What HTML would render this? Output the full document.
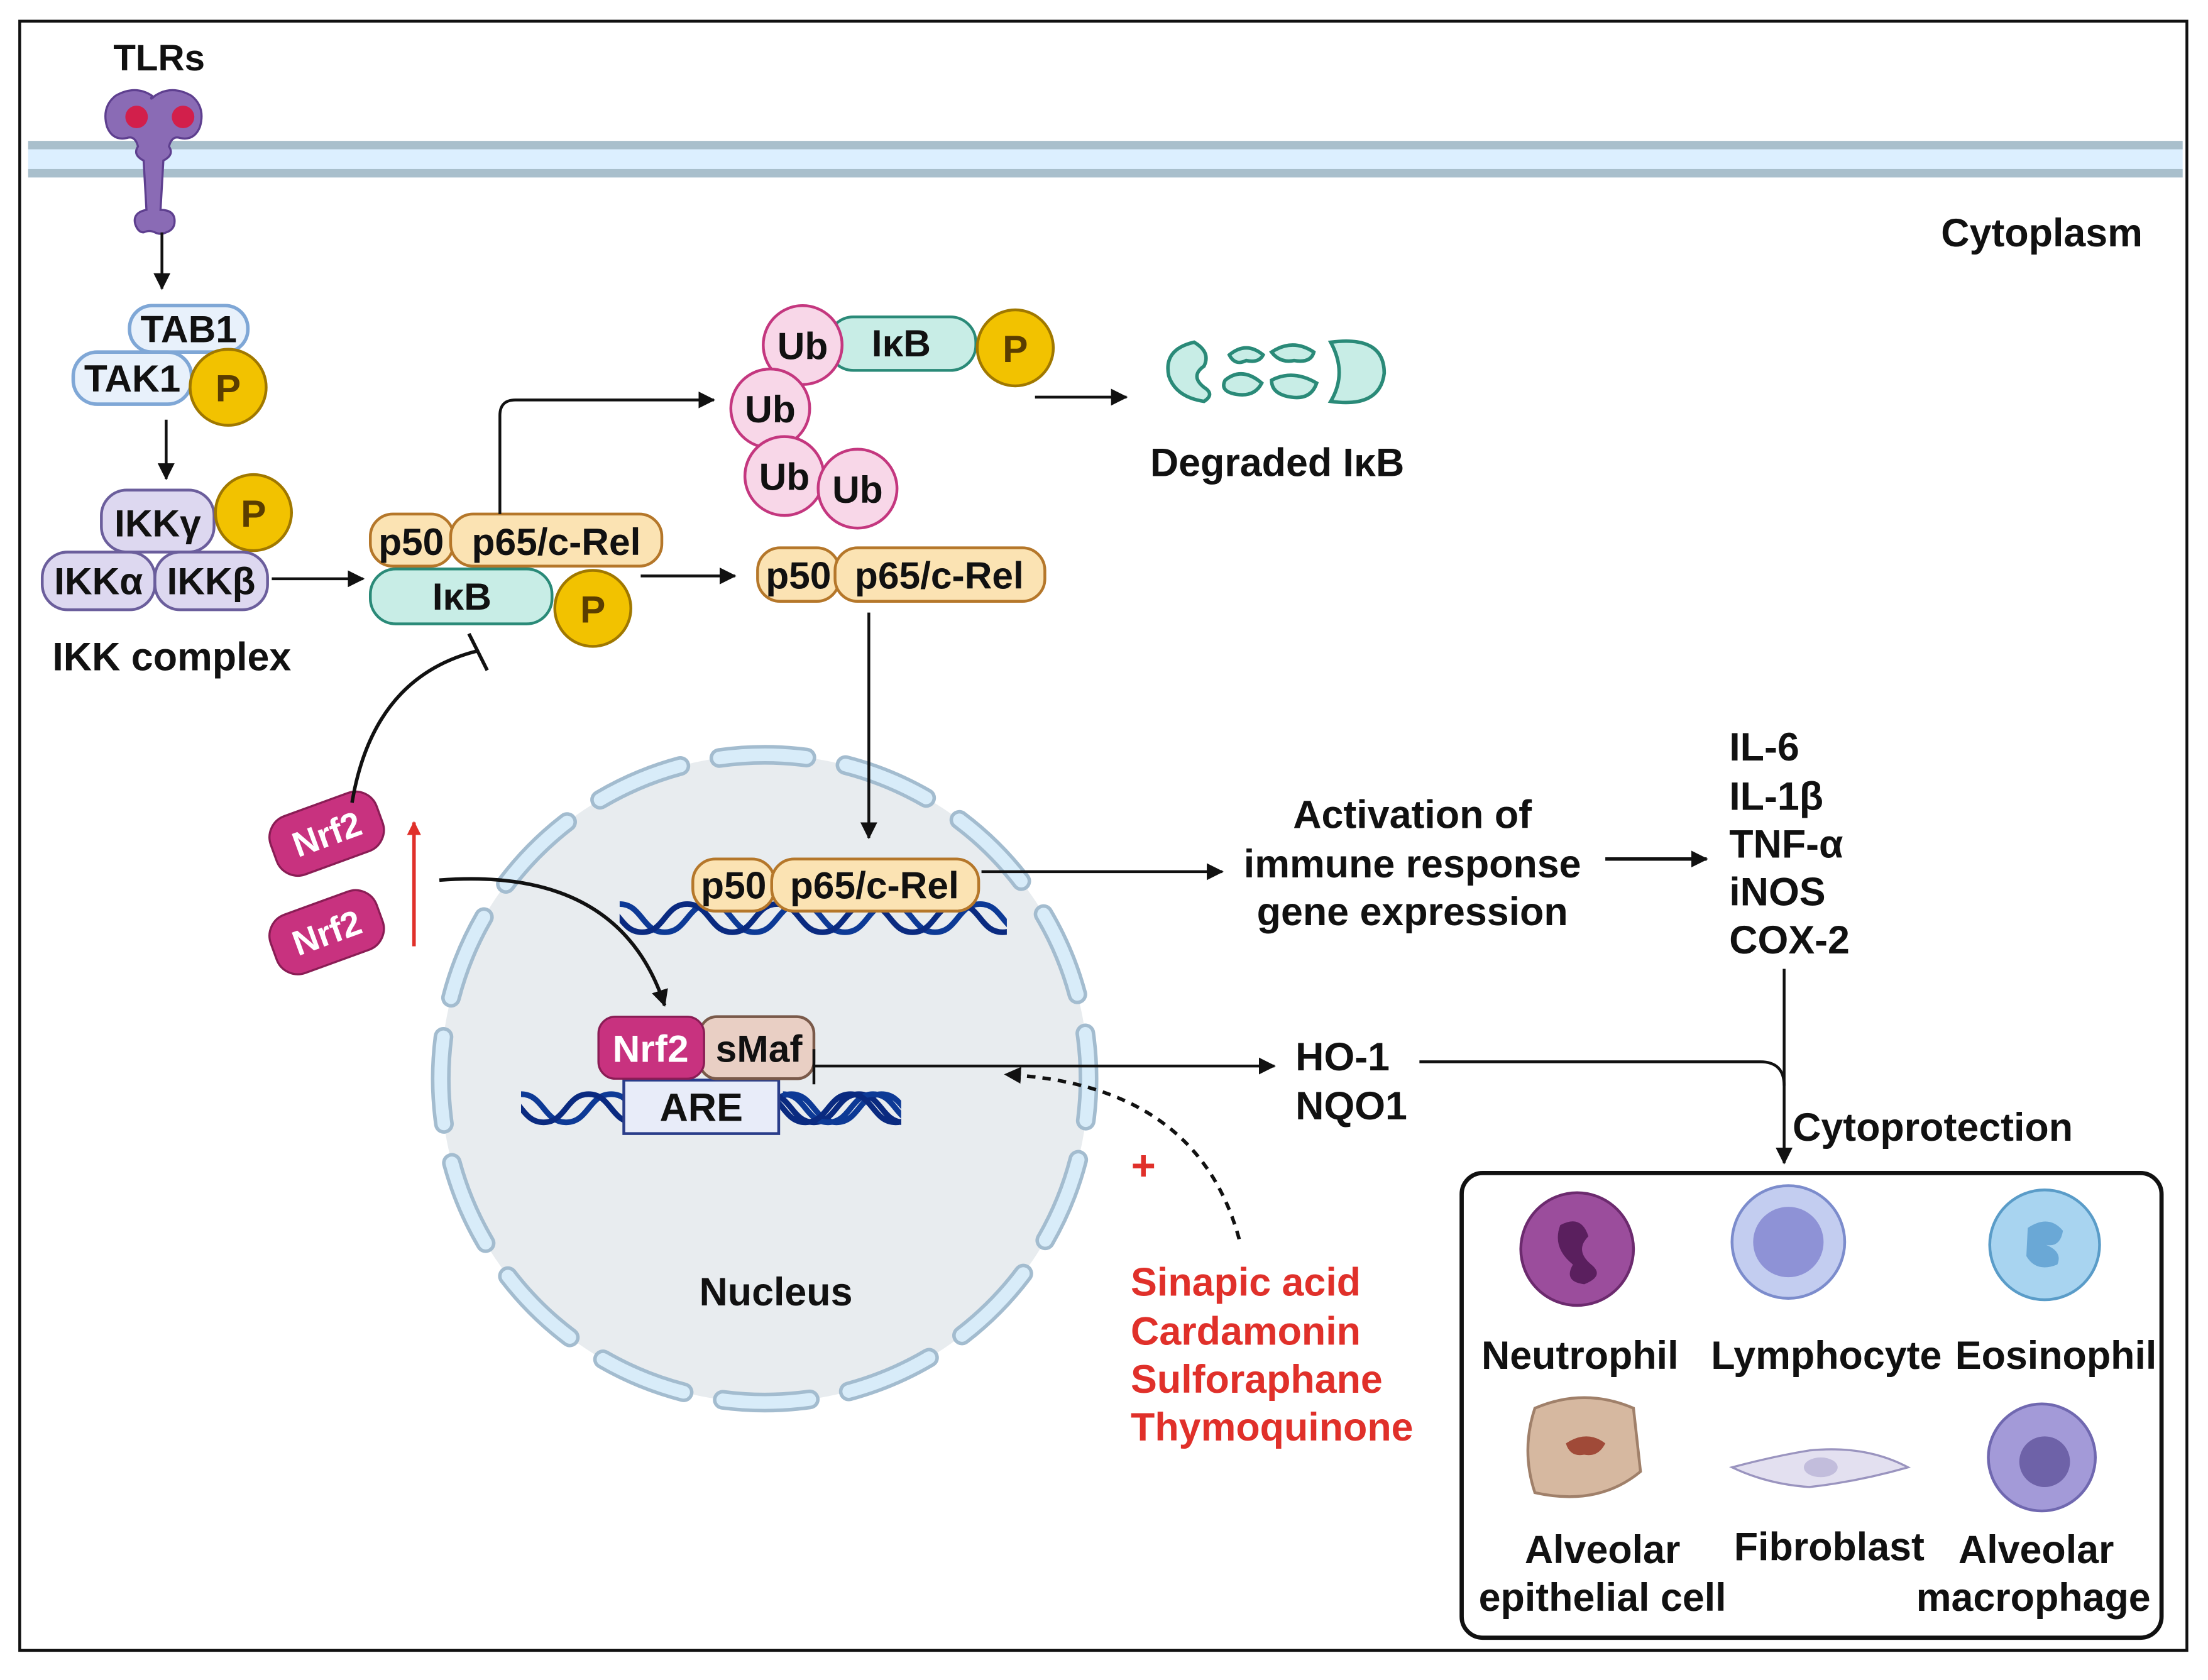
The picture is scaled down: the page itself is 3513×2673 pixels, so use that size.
<!DOCTYPE html>
<html><head><meta charset="utf-8"><style>
html,body{margin:0;padding:0;background:#fff}
svg{display:block}
text{font-family:"Liberation Sans",sans-serif;font-weight:bold;fill:#111}
</style></head><body>
<svg width="3513" height="2673" viewBox="0 0 1568 1193" xmlns="http://www.w3.org/2000/svg">
<defs>
<marker id="ah" markerWidth="12" markerHeight="12" refX="11" refY="6" orient="auto" markerUnits="userSpaceOnUse"><path d="M0,0 L12,6 L0,12 z" fill="#111"/></marker>
<marker id="ahr" markerWidth="10" markerHeight="10" refX="9" refY="5" orient="auto" markerUnits="userSpaceOnUse"><path d="M0,0 L10,5 L0,10 z" fill="#e0302a"/></marker>
<g id="dna"><path d="M0,-10 c16,0 16,20 32,20 c16,0 16,-20 32,-20 c16,0 16,20 32,20 c16,0 16,-20 32,-20 c16,0 16,20 32,20 c16,0 16,-20 32,-20 c16,0 16,20 32,20 c16,0 16,-20 32,-20 c16,0 16,20 32,20 c16,0 16,-20 32,-20" fill="none" stroke="#0d3a96" stroke-width="4"/><path d="M-16,-10 c16,0 16,20 32,20 c16,0 16,-20 32,-20 c16,0 16,20 32,20 c16,0 16,-20 32,-20 c16,0 16,20 32,20 c16,0 16,-20 32,-20 c16,0 16,20 32,20 c16,0 16,-20 32,-20 c16,0 16,20 32,20 c16,0 16,-20 32,-20" fill="none" stroke="#0a2a80" stroke-width="4"/></g>
<clipPath id="c1"><rect x="440" y="630" width="275" height="40"/></clipPath>
<clipPath id="c2"><rect x="370" y="765" width="80" height="45"/><rect x="550" y="765" width="90" height="45"/></clipPath>
</defs>
<rect x="14" y="15" width="1539" height="1157" fill="#fff" stroke="#111" stroke-width="2"/>
<rect x="20" y="101" width="1530" height="25" fill="#dcefff"/>
<rect x="20" y="100" width="1530" height="6" fill="#a9bfcc"/>
<rect x="20" y="120" width="1530" height="6" fill="#a9bfcc"/>
<text x="113" y="50" font-size="26" text-anchor="middle">TLRs</text>
<path d="M108,68 q-12,-8 -26,0 q-10,8 -6,22 q4,10 14,8 q6,-2 8,6 q-4,6 4,10 l2,35 q-10,2 -8,10 q2,6 6,6 q4,-2 8,0 q4,2 8,0 q6,-2 6,-8 q0,-8 -10,-8 l2,-35 q8,-4 4,-10 q2,-8 8,-6 q10,2 14,-8 q4,-14 -6,-22 q-14,-8 -26,0 q-4,4 -2,0z" fill="#8a6bb5" stroke="#5e3f8f" stroke-width="1.5"/>
<circle cx="97" cy="83" r="8" fill="#d21f4b"/><circle cx="130" cy="83" r="8" fill="#d21f4b"/>
<line x1="115" y1="165" x2="115" y2="205" stroke="#111" stroke-width="2" marker-end="url(#ah)"/>
<rect x="92" y="217" width="84" height="33" rx="16" fill="#e8f1fb" stroke="#7fa7d6" stroke-width="2.5"/>
<text x="134" y="243" font-size="27" text-anchor="middle">TAB1</text>
<rect x="52" y="250" width="84" height="37" rx="17" fill="#e8f1fb" stroke="#7fa7d6" stroke-width="2.5"/>
<text x="94" y="278" font-size="27" text-anchor="middle">TAK1</text>
<circle cx="162" cy="275" r="27" fill="#f2c200" stroke="#a07800" stroke-width="2"/><text x="162" y="285" font-size="27" text-anchor="middle" style="fill:#5a3d00">P</text>
<line x1="118" y1="298" x2="118" y2="340" stroke="#111" stroke-width="2" marker-end="url(#ah)"/>
<rect x="72" y="348" width="80" height="44" rx="18" fill="#ddd8f0" stroke="#6b5e9c" stroke-width="2"/>
<text x="112" y="381" font-size="27" text-anchor="middle">IKKγ</text>
<circle cx="180" cy="364" r="27" fill="#f2c200" stroke="#a07800" stroke-width="2"/><text x="180" y="374" font-size="27" text-anchor="middle" style="fill:#5a3d00">P</text>
<rect x="30" y="392" width="80" height="41" rx="18" fill="#ddd8f0" stroke="#6b5e9c" stroke-width="2"/>
<text x="70" y="422" font-size="27" text-anchor="middle">IKKα</text>
<rect x="110" y="392" width="80" height="41" rx="18" fill="#ddd8f0" stroke="#6b5e9c" stroke-width="2"/>
<text x="150" y="422" font-size="27" text-anchor="middle">IKKβ</text>
<text x="122" y="476" font-size="28" text-anchor="middle">IKK complex</text>
<line x1="193" y1="411" x2="258" y2="411" stroke="#111" stroke-width="2" marker-end="url(#ah)"/>
<rect x="263" y="365" width="59" height="37" rx="16" fill="#fbe3b3" stroke="#b5772a" stroke-width="2"/>
<text x="292" y="394" font-size="27" text-anchor="middle">p50</text>
<rect x="320" y="365" width="150" height="37" rx="16" fill="#fbe3b3" stroke="#b5772a" stroke-width="2"/>
<text x="395" y="394" font-size="27" text-anchor="middle">p65/c-Rel</text>
<rect x="263" y="404" width="129" height="39" rx="18" fill="#c8ede6" stroke="#2a8a78" stroke-width="2"/>
<text x="328" y="433" font-size="27" text-anchor="middle">IκB</text>
<circle cx="421" cy="432" r="27" fill="#f2c200" stroke="#a07800" stroke-width="2"/><text x="421" y="442" font-size="27" text-anchor="middle" style="fill:#5a3d00">P</text>
<line x1="455" y1="409" x2="522" y2="409" stroke="#111" stroke-width="2" marker-end="url(#ah)"/>
<path d="M355,365 V295 q0,-11 11,-11 H507" fill="none" stroke="#111" stroke-width="2" marker-end="url(#ah)"/>
<rect x="588" y="225" width="105" height="38" rx="18" fill="#c8ede6" stroke="#2a8a78" stroke-width="2"/>
<text x="640" y="253" font-size="27" text-anchor="middle">IκB</text>
<circle cx="721" cy="247" r="27" fill="#f2c200" stroke="#a07800" stroke-width="2"/><text x="721" y="257" font-size="27" text-anchor="middle" style="fill:#5a3d00">P</text>
<circle cx="570" cy="245" r="28" fill="#f8d7e8" stroke="#c4377f" stroke-width="2"/><text x="570" y="255" font-size="27" text-anchor="middle">Ub</text>
<circle cx="547" cy="290" r="28" fill="#f8d7e8" stroke="#c4377f" stroke-width="2"/><text x="547" y="300" font-size="27" text-anchor="middle">Ub</text>
<circle cx="557" cy="338" r="28" fill="#f8d7e8" stroke="#c4377f" stroke-width="2"/><text x="557" y="348" font-size="27" text-anchor="middle">Ub</text>
<circle cx="609" cy="347" r="28" fill="#f8d7e8" stroke="#c4377f" stroke-width="2"/><text x="609" y="357" font-size="27" text-anchor="middle">Ub</text>
<line x1="735" y1="282" x2="800" y2="282" stroke="#111" stroke-width="2" marker-end="url(#ah)"/>
<g fill="#c8ede6" stroke="#2a8a78" stroke-width="2.5">
<path d="M848,243 q-22,5 -18,24 q5,15 25,18 q8,-5 0,-10 q-10,-8 0,-15 q5,-10 -7,-17z"/>
<path d="M873,252 q12,-10 24,0 q-3,6 -12,4 q-8,4 -12,-4z M870,270 q12,-10 26,2 q-5,10 -18,8 q-12,-2 -8,-10z"/>
<path d="M903,250 q15,-10 30,0 q-2,8 -14,6 q-10,2 -16,-6z M903,270 q15,-8 32,2 q-4,12 -18,10 q-14,-2 -14,-12z"/>
<path d="M945,243 q38,-5 38,22 q-3,25 -38,20 q12,-20 0,-42z"/>
</g>
<text x="907" y="338" font-size="28" text-anchor="middle">Degraded IκB</text>
<rect x="538" y="389" width="58" height="38" rx="16" fill="#fbe3b3" stroke="#b5772a" stroke-width="2"/>
<text x="567" y="418" font-size="27" text-anchor="middle">p50</text>
<rect x="593" y="389" width="149" height="38" rx="16" fill="#fbe3b3" stroke="#b5772a" stroke-width="2"/>
<text x="667" y="418" font-size="27" text-anchor="middle">p65/c-Rel</text>
<text x="1450" y="175" font-size="28" text-anchor="middle">Cytoplasm</text>
<circle cx="543" cy="766" r="230" fill="#e8ecef"/>
<g transform="rotate(-8 543 766)">
<circle cx="543" cy="766" r="230" fill="none" stroke="#a3bccf" stroke-width="14" stroke-linecap="round" stroke-dasharray="62 28.3"/>
<circle cx="543" cy="766" r="230" fill="none" stroke="#d8ecf9" stroke-width="9" stroke-linecap="round" stroke-dasharray="62 28.3"/>
</g>
<line x1="617" y1="435" x2="617" y2="595" stroke="#111" stroke-width="2" marker-end="url(#ah)"/>
<text x="551" y="927" font-size="28" text-anchor="middle">Nucleus</text>
<g clip-path="url(#c1)"><use href="#dna" x="440" y="652"/></g>
<rect x="492" y="610" width="58" height="37" rx="16" fill="#fbe3b3" stroke="#b5772a" stroke-width="2"/>
<text x="521" y="638" font-size="27" text-anchor="middle">p50</text>
<rect x="548" y="610" width="147" height="37" rx="16" fill="#fbe3b3" stroke="#b5772a" stroke-width="2"/>
<text x="621" y="638" font-size="27" text-anchor="middle">p65/c-Rel</text>
<line x1="697" y1="619" x2="868" y2="619" stroke="#111" stroke-width="2" marker-end="url(#ah)"/>
<text font-size="28" text-anchor="middle"><tspan x="1003" y="588">Activation of</tspan><tspan x="1003" y="623">immune response</tspan><tspan x="1003" y="657">gene expression</tspan></text>
<line x1="1140" y1="610" x2="1212" y2="610" stroke="#111" stroke-width="2.5" marker-end="url(#ah)"/>
<text font-size="28"><tspan x="1228" y="540">IL-6</tspan><tspan x="1228" y="575">IL-1β</tspan><tspan x="1228" y="609">TNF-α</tspan><tspan x="1228" y="643">iNOS</tspan><tspan x="1228" y="677">COX-2</tspan></text>
<line x1="1267" y1="688" x2="1267" y2="826" stroke="#111" stroke-width="2" marker-end="url(#ah)"/>
<path d="M1008,754 H1250 q17,0 17,17" fill="none" stroke="#111" stroke-width="2"/>
<text font-size="28"><tspan x="920" y="760">HO-1</tspan><tspan x="920" y="795">NQO1</tspan></text>
<text x="1273" y="810" font-size="28">Cytoprotection</text>
<g clip-path="url(#c2)"><use href="#dna" x="370" y="787"/><use href="#dna" x="556" y="787"/></g>
<rect x="443" y="767" width="110" height="38" fill="#e8ecf9" stroke="#2a3d8a" stroke-width="2"/>
<text x="498" y="796" font-size="28" text-anchor="middle">ARE</text>
<rect x="497" y="722" width="81" height="44" rx="12" fill="#e9cfc4" stroke="#7a5a4a" stroke-width="2"/>
<text x="539" y="754" font-size="27" text-anchor="middle">sMaf</text>
<rect x="425" y="722" width="75" height="44" rx="12" fill="#c8327f" stroke="#8a1d55" stroke-width="1.5"/>
<text x="462" y="754" font-size="27" text-anchor="middle" style="fill:#fff">Nrf2</text>
<line x1="578" y1="757" x2="905" y2="757" stroke="#111" stroke-width="2" marker-end="url(#ah)"/>
<line x1="578" y1="745" x2="578" y2="770" stroke="#111" stroke-width="2"/>
<path d="M880,880 Q850,770 714,763" fill="none" stroke="#111" stroke-width="2.5" stroke-dasharray="6 5" marker-end="url(#ah)"/>
<text x="812" y="838" font-size="30" text-anchor="middle" style="fill:#e0302a">+</text>
<text font-size="28" style="fill:#e0302a"><tspan x="803" y="920">Sinapic acid</tspan><tspan x="803" y="955">Cardamonin</tspan><tspan x="803" y="989">Sulforaphane</tspan><tspan x="803" y="1023">Thymoquinone</tspan></text>
<g transform="translate(232,592) rotate(-20)"><rect x="-40" y="-22" width="80" height="44" rx="16" fill="#c8327f" stroke="#8a1d55" stroke-width="1.5"/><text x="0" y="9" font-size="25" text-anchor="middle" font-weight="normal" style="fill:#fff">Nrf2</text></g>
<g transform="translate(232,662) rotate(-20)"><rect x="-40" y="-22" width="80" height="44" rx="16" fill="#c8327f" stroke="#8a1d55" stroke-width="1.5"/><text x="0" y="9" font-size="25" text-anchor="middle" font-weight="normal" style="fill:#fff">Nrf2</text></g>
<line x1="294" y1="672" x2="294" y2="584" stroke="#e0302a" stroke-width="2.5" marker-end="url(#ahr)"/>
<path d="M250,570 Q265,480 340,462" fill="none" stroke="#111" stroke-width="2.5"/>
<line x1="333" y1="450" x2="346" y2="476" stroke="#111" stroke-width="2.5"/>
<path d="M312,625 Q440,615 472,714" fill="none" stroke="#111" stroke-width="2.5" marker-end="url(#ah)"/>
<rect x="1038" y="833" width="497" height="330" rx="15" fill="#fff" stroke="#111" stroke-width="3"/>
<circle cx="1120" cy="887" r="40" fill="#9b4d9c" stroke="#6c2a6e" stroke-width="2"/>
<path d="M1108,870 q15,-8 20,8 q-10,10 2,20 q10,8 -5,14 q-15,-2 -8,-14 q-15,-12 -9,-28z" fill="#5a1f5e"/>
<circle cx="1270" cy="882" r="40" fill="#c3cdf0" stroke="#7c8ccc" stroke-width="2"/><circle cx="1270" cy="882" r="25" fill="#8e92d6"/>
<circle cx="1452" cy="884" r="39" fill="#a8d4f0" stroke="#5a9cc8" stroke-width="2"/>
<path d="M1440,872 q15,-10 25,2 q-2,12 -12,10 q12,5 8,14 q-15,6 -22,-6z" fill="#6aa8d6"/>
<text font-size="28" text-anchor="middle"><tspan x="1122" y="972">Neutrophil</tspan><tspan x="1297" y="972">Lymphocyte</tspan><tspan x="1460" y="972">Eosinophil</tspan></text>
<path d="M1090,1000 q35,-15 70,0 l5,45 q-30,25 -75,15 q-10,-30 0,-60z" fill="#d6b8a0" stroke="#a0806a" stroke-width="2"/>
<path d="M1112,1025 q15,-10 28,0 q-5,10 -15,8 q-10,2 -13,-8z" fill="#a04a38"/>
<path d="M1230,1042 q30,-8 55,-12 q40,-4 70,12 q-35,10 -70,14 q-30,-2 -55,-14z" fill="#e3e0f0" stroke="#9a94bf" stroke-width="1.5"/>
<ellipse cx="1293" cy="1042" rx="12" ry="7" fill="#c2bddc"/>
<circle cx="1450" cy="1035" r="38" fill="#a39ad8" stroke="#7068b0" stroke-width="2"/><circle cx="1452" cy="1038" r="18" fill="#6e62a8"/>
<text font-size="28" text-anchor="middle"><tspan x="1138" y="1110">Alveolar</tspan><tspan x="1138" y="1144">epithelial cell</tspan><tspan x="1299" y="1108">Fibroblast</tspan><tspan x="1446" y="1110">Alveolar</tspan><tspan x="1444" y="1144">macrophage</tspan></text>
</svg>
</body></html>
